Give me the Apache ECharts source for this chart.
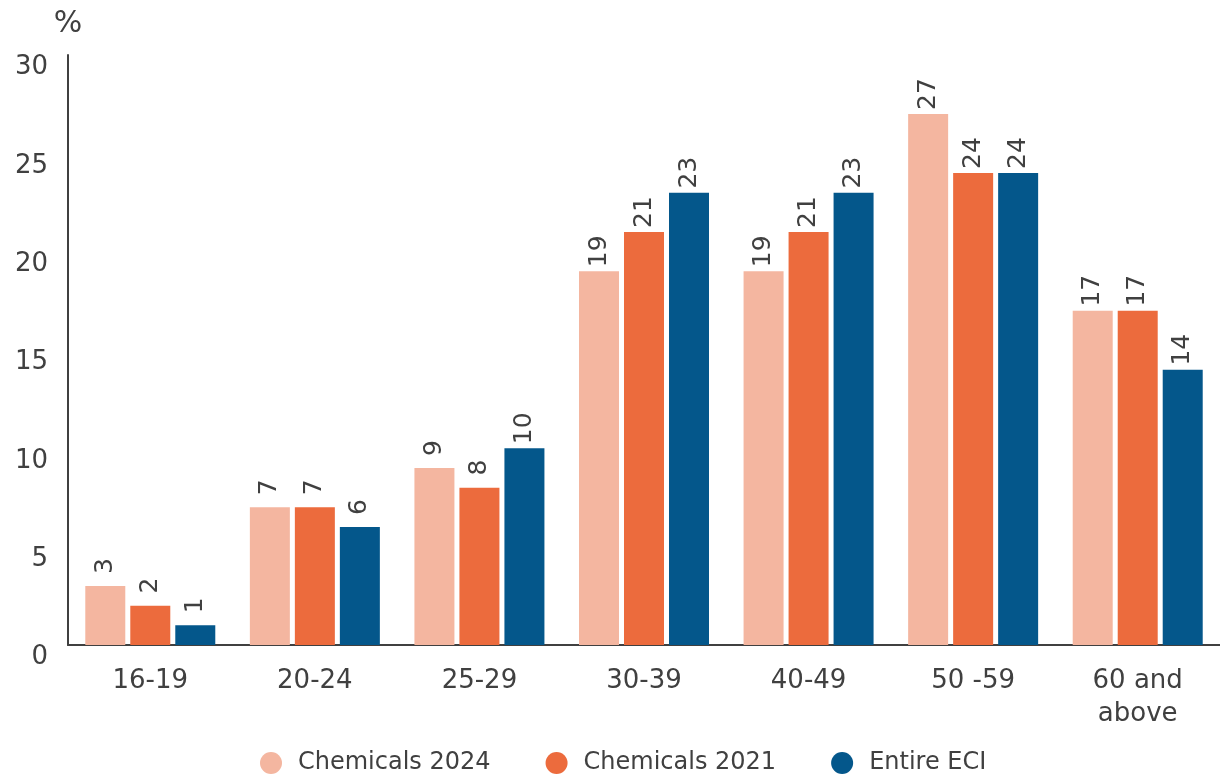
<!DOCTYPE html>
<html>
<head>
<meta charset="utf-8">
<script src="https://cdn.jsdelivr.net/npm/echarts@6/dist/echarts.min.js"></script>
<style>
  html, body { margin: 0; padding: 0; background: #ffffff; }
  #chart { width: 1220px; height: 781px; }
</style>
</head>
<body>
<div id="chart"></div>
<script>
// Age groups on the category axis
const ageGroups = ['16-19', '20-24', '25-29', '30-39', '40-49', '50 -59', '60 and\nabove'];

// Share of respondents per age group, in %
const chemicals2024 = [3, 7, 9, 19, 19, 27, 17];
const chemicals2021 = [2, 7, 8, 21, 21, 24, 17];
const entireECI = [1, 6, 10, 23, 23, 24, 14];

const seriesNames = ['Chemicals 2024', 'Chemicals 2021', 'Entire ECI'];
const seriesColors = ['#F4B6A0', '#EC6B3D', '#04578B'];

const textColor = '#404040';
const fontFamily = '"DejaVu Sans", Verdana, sans-serif';

const chart = echarts.init(document.getElementById('chart'), null, { renderer: 'canvas' });

function barSeries(name, data, color) {
  return {
    name: name,
    type: 'bar',
    data: data,
    barWidth: 40,
    barGap: '12.5%',
    itemStyle: { color: color },
    label: {
      show: true,
      position: 'top',
      rotate: 90,
      align: 'center',
      verticalAlign: 'middle',
      distance: 20,
      color: textColor,
      fontFamily: fontFamily,
      fontSize: 25
    }
  };
}

chart.setOption({
  animation: false,
  backgroundColor: '#ffffff',
  grid: { left: 68, right: 0, top: 55, bottom: 136, containLabel: false },
  legend: {
    data: seriesNames.map(n => ({ name: n, icon: 'circle' })),
    left: 255,
    top: 746,
    itemWidth: 44,
    itemHeight: 22,
    itemGap: 55,
    textStyle: { color: textColor, fontFamily: fontFamily, fontSize: 24 }
  },
  xAxis: {
    type: 'category',
    data: ageGroups,
    axisLine: { lineStyle: { color: '#404040', width: 2 } },
    axisTick: { show: false },
    axisLabel: {
      color: textColor,
      fontFamily: fontFamily,
      fontSize: 26,
      lineHeight: 33,
      margin: 20
    }
  },
  yAxis: {
    type: 'value',
    min: 0,
    max: 30,
    interval: 5,
    name: '%',
    nameLocation: 'end',
    nameGap: 16,
    nameTextStyle: { color: textColor, fontFamily: fontFamily, fontSize: 30, align: 'center' },
    axisLine: { show: true, lineStyle: { color: '#404040', width: 2 } },
    axisTick: { show: false },
    splitLine: { show: false },
    axisLabel: {
      color: textColor,
      fontFamily: fontFamily,
      fontSize: 26,
      margin: 20,
      verticalAlign: 'top',
      lineHeight: 25
    }
  },
  series: [
    barSeries(seriesNames[0], chemicals2024, seriesColors[0]),
    barSeries(seriesNames[1], chemicals2021, seriesColors[1]),
    barSeries(seriesNames[2], entireECI, seriesColors[2])
  ]
});
</script>
</body>
</html>
